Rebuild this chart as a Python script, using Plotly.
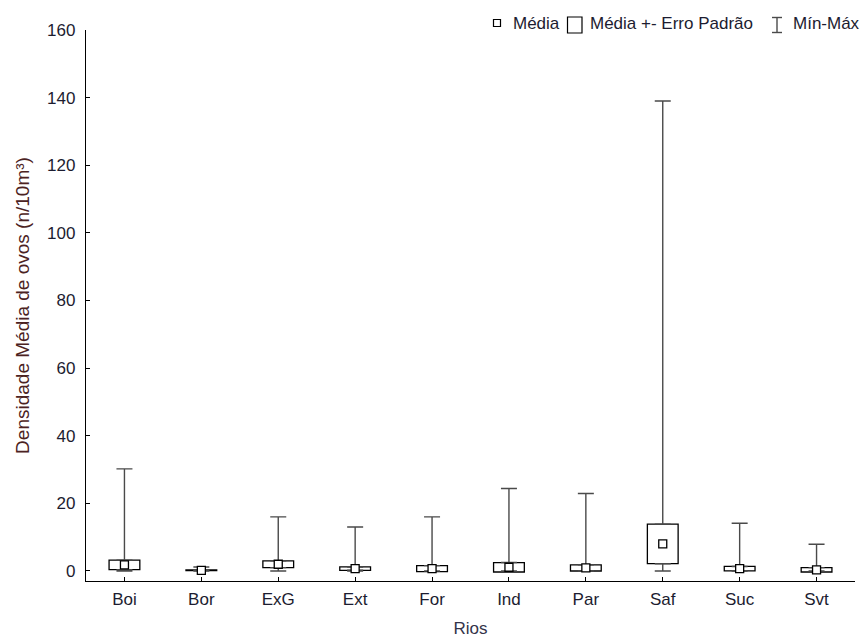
import plotly.graph_objects as go

# Rivers and egg-density summary statistics (n/10m³)
rios = ["Boi", "Bor", "ExG", "Ext", "For", "Ind", "Par", "Saf", "Suc", "Svt"]
media = [1.8, 0.2, 2.0, 0.7, 0.7, 1.1, 0.9, 8.0, 0.7, 0.35]
erro_padrao = [1.4, 0.1, 1.0, 0.5, 0.9, 1.4, 0.9, 5.85, 0.65, 0.65]
minimo = [0.0, 0.0, 0.0, 0.0, 0.0, 0.0, 0.0, 0.0, 0.0, 0.0]
maximo = [30.2, 1.2, 16.0, 13.0, 16.0, 24.4, 22.9, 139.0, 14.1, 7.9]
y_ticks = [0, 20, 40, 60, 80, 100, 120, 140, 160]

FONT = "Liberation Sans, Arial, sans-serif"
TXT = "#1c1c30"
WHISK = "#4a4a4a"

box_lo = [m - e for m, e in zip(media, erro_padrao)]
box_hi = [m + e for m, e in zip(media, erro_padrao)]

fig = go.Figure()

# Mean ± standard error boxes
fig.add_trace(go.Bar(
    x=rios, y=[h - l for h, l in zip(box_hi, box_lo)], base=box_lo,
    width=0.4, marker=dict(color="white", line=dict(color="black", width=1.3)),
    showlegend=False, hoverinfo="skip",
))

# Upper whisker: box top up to the maximum
fig.add_trace(go.Scatter(
    x=rios, y=box_hi, mode="markers", marker=dict(size=1, opacity=0),
    error_y=dict(type="data", symmetric=False,
                 array=[mx - h for mx, h in zip(maximo, box_hi)],
                 arrayminus=[0] * len(rios),
                 color=WHISK, thickness=1.4, width=8),
    showlegend=False, hoverinfo="skip",
))

# Lower whisker: minimum up to the box bottom
fig.add_trace(go.Scatter(
    x=rios, y=minimo, mode="markers", marker=dict(size=1, opacity=0),
    error_y=dict(type="data", symmetric=False,
                 array=[max(l - mn, 0) for l, mn in zip(box_lo, minimo)],
                 arrayminus=[0] * len(rios),
                 color=WHISK, thickness=1.4, width=8),
    showlegend=False, hoverinfo="skip",
))

# Mean markers
fig.add_trace(go.Scatter(
    x=rios, y=media, mode="markers",
    marker=dict(symbol="square", size=8, color="white",
                line=dict(color="black", width=1.3)),
    showlegend=False,
))

# Legend drawn in pixel-based paper coordinates
L, R, T, B = 86, 855, 30, 581
def px(x):
    return (x - L) / (R - L)
def py(y):
    return (B - y) / (B - T)

shapes = [
    dict(type="rect", xref="paper", yref="paper",
         x0=px(493.5), x1=px(500.5), y0=py(26.5), y1=py(19.5),
         line=dict(color="black", width=1.2), fillcolor="white"),
    dict(type="rect", xref="paper", yref="paper",
         x0=px(567.5), x1=px(582), y0=py(33), y1=py(17),
         line=dict(color="black", width=1.2), fillcolor="white"),
    dict(type="line", xref="paper", yref="paper",
         x0=px(777), x1=px(777), y0=py(32.5), y1=py(17.5),
         line=dict(color=WHISK, width=1.4)),
    dict(type="line", xref="paper", yref="paper",
         x0=px(772), x1=px(782), y0=py(17.5), y1=py(17.5),
         line=dict(color=WHISK, width=1.4)),
    dict(type="line", xref="paper", yref="paper",
         x0=px(772), x1=px(782), y0=py(32.5), y1=py(32.5),
         line=dict(color=WHISK, width=1.4)),
]
annotations = []
for text, xl in [("Média", 511), ("Média +- Erro Padrão", 588), ("Mín-Máx", 791)]:
    annotations.append(dict(
        text=text, xref="paper", yref="paper", x=px(xl), y=py(24),
        xanchor="left", yanchor="middle", showarrow=False,
        font=dict(family=FONT, size=17, color=TXT),
    ))

fig.update_layout(
    width=862, height=638,
    margin=dict(l=L, r=862 - R, t=T, b=638 - B),
    plot_bgcolor="white", paper_bgcolor="white",
    font=dict(family=FONT, size=17, color=TXT),
    shapes=shapes, annotations=annotations,
    showlegend=False,
    xaxis=dict(
        type="category", range=[-0.5, 9.5], automargin=False,
        showline=True, linecolor="black", linewidth=1.3,
        ticks="inside", ticklen=4, tickcolor="black", tickwidth=1.2,
        showgrid=False, zeroline=False,
        tickfont=dict(family=FONT, size=17, color=TXT),
        ticklabelstandoff=2,
        title=dict(text="Rios", font=dict(family=FONT, size=17, color="#33334a"),
                   standoff=14),
    ),
    yaxis=dict(
        range=[-2.96, 160], automargin=False,
        tickvals=y_ticks,
        showline=True, linecolor="black", linewidth=1.3,
        ticks="inside", ticklen=4, tickcolor="black", tickwidth=1.2,
        showgrid=False, zeroline=False,
        tickfont=dict(family=FONT, size=17, color=TXT),
        ticklabelstandoff=6,
        title=dict(text="Densidade Média de ovos (n/10m³)",
                   font=dict(family=FONT, size=19, color="#4b2222"),
                   standoff=12),
    ),
)

fig.write_html("out.html")
